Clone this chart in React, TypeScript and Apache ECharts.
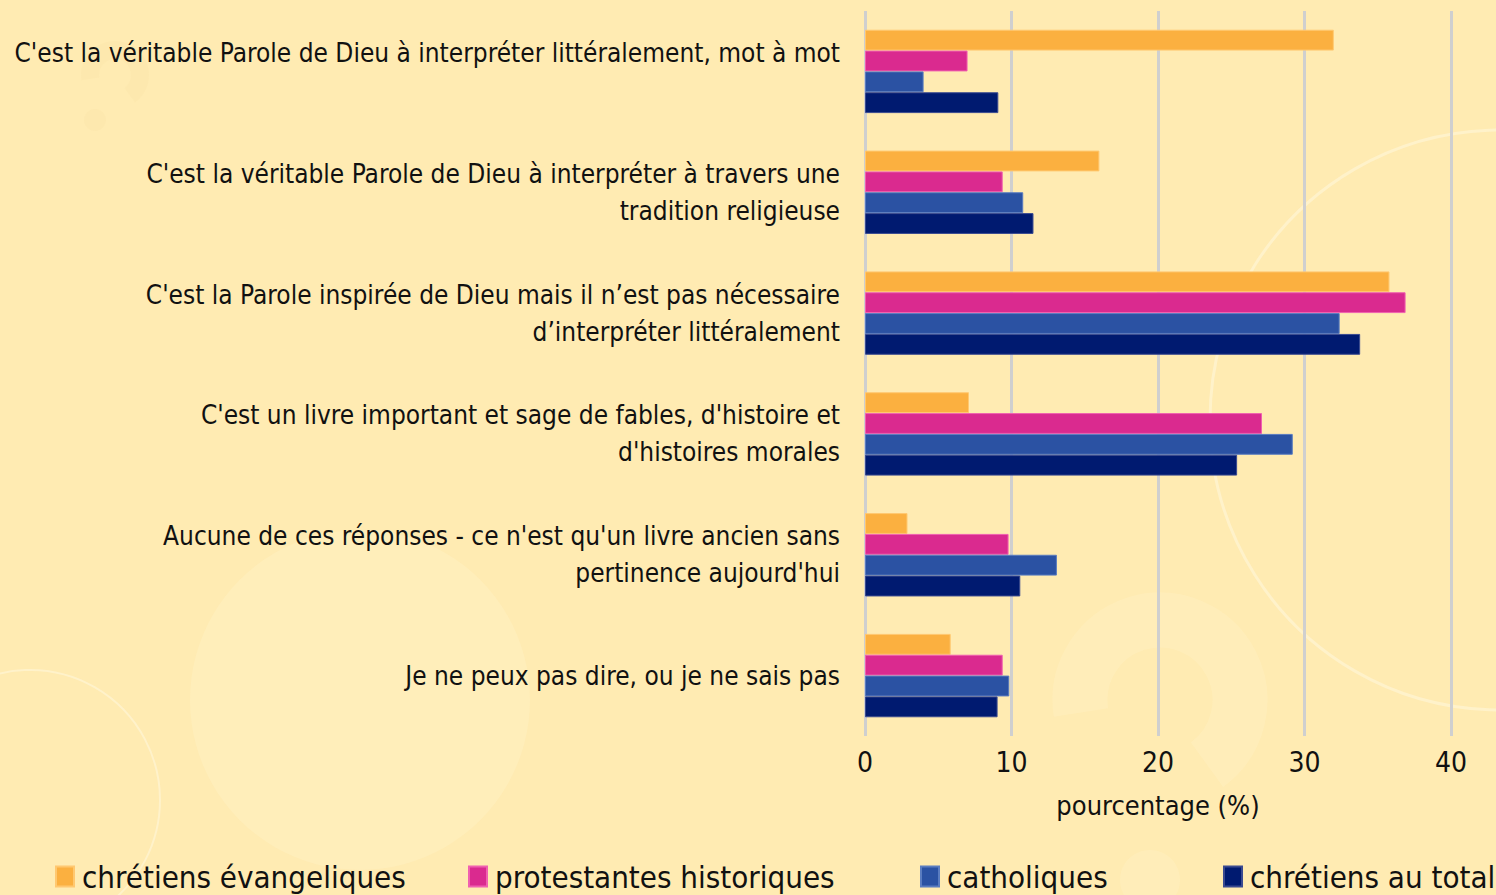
import React, { useEffect, useRef } from "react";
import * as echarts from "echarts";

const categories = [
  "C'est la véritable Parole de Dieu à interpréter littéralement, mot à mot\n ",
  "C'est la véritable Parole de Dieu à interpréter à travers une\ntradition religieuse",
  "C'est la Parole inspirée de Dieu mais il n’est pas nécessaire\nd’interpréter littéralement",
  "C'est un livre important et sage de fables, d'histoire et\nd'histoires morales",
  "Aucune de ces réponses - ce n'est qu'un livre ancien sans\npertinence aujourd'hui",
  "Je ne peux pas dire, ou je ne sais pas",
];

const seriesNames = [
  "chrétiens évangeliques",
  "protestantes historiques",
  "catholiques",
  "chrétiens au total",
];

const evangeliques = [32, 16, 35.8, 7.1, 2.9, 5.85];
const protestantes = [7, 9.4, 36.9, 27.1, 9.8, 9.4];
const catholiques = [4, 10.8, 32.4, 29.2, 13.1, 9.85];
const total = [9.1, 11.5, 33.8, 25.4, 10.6, 9.05];

const xTicks = [0, 10, 20, 30, 40];

const colors = ["#FBB040", "#DA2A8F", "#2B52A3", "#001A70"];
const borders = ["#FFC870", "#F060B0", "#5A7CC0", "#3A4A90"];

const FONT = "'DejaVu Sans Condensed', 'Liberation Sans Narrow', 'Roboto', sans-serif";

export default function App() {
  const ref = useRef<HTMLDivElement>(null);
  useEffect(() => {
    document.body.style.margin = "0";
    const chart = echarts.init(ref.current!, null, { renderer: "svg" });
    const values = [evangeliques, protestantes, catholiques, total];
    const legendLefts = [55, 468, 920, 1223];
    const faint = "rgba(255,245,205,0.28)";
    const faintDark = "rgba(235,215,150,0.12)";
    chart.setOption({
      animation: false,
      backgroundColor: "#FFEBB2",
      textStyle: { fontFamily: FONT },
      graphic: [
        { type: "circle", shape: { cx: 360, cy: 700, r: 170 }, style: { fill: "rgba(255,245,205,0.3)" }, z: -10, silent: true },
        { type: "circle", shape: { cx: 30, cy: 800, r: 130 }, style: { fill: "none", stroke: "rgba(255,250,225,0.5)", lineWidth: 2 }, z: -10, silent: true },
        { type: "circle", shape: { cx: 1500, cy: 420, r: 290 }, style: { fill: "none", stroke: "rgba(255,250,225,0.5)", lineWidth: 3 }, z: -10, silent: true },
        { type: "arc", shape: { cx: 1160, cy: 700, r: 80, startAngle: Math.PI * 0.95, endAngle: Math.PI * 2.3 }, style: { stroke: faint, lineWidth: 55, fill: "none" }, z: -10, silent: true },
        { type: "circle", shape: { cx: 1150, cy: 880, r: 30 }, style: { fill: faint }, z: -10, silent: true },
        { type: "arc", shape: { cx: 115, cy: 75, r: 25, startAngle: Math.PI * 0.95, endAngle: Math.PI * 2.3 }, style: { stroke: faintDark, lineWidth: 18, fill: "none" }, z: -10, silent: true },
        { type: "circle", shape: { cx: 95, cy: 120, r: 11 }, style: { fill: faintDark }, z: -10, silent: true },
      ],
      grid: { left: 865, right: 45, top: 11, bottom: 159, containLabel: false, outerBoundsMode: "none" },
      legend: seriesNames.map((n, i) => ({
        data: [n],
        left: legendLefts[i],
        top: 861,
        icon: "rect",
        itemWidth: 18,
        itemHeight: 20,
        itemGap: 8,
        padding: 0,
        textStyle: { fontSize: 31, color: "#111", fontFamily: FONT, padding: [0, 0, 0, 3] },
      })),
      xAxis: {
        type: "value",
        min: 0,
        max: 40,
        interval: 10,
        name: "pourcentage (%)",
        nameLocation: "middle",
        nameGap: 56,
        nameTextStyle: { fontSize: 27, color: "#111", fontFamily: FONT },
        axisLine: { show: false },
        axisTick: { show: false },
        axisLabel: {
          fontSize: 28,
          color: "#111",
          margin: 12,
          fontFamily: FONT,
          formatter: (v: number) => (xTicks.includes(v) ? String(v) : ""),
        },
        splitLine: { show: true, lineStyle: { color: "#CFCFCF", width: 3 } },
      },
      yAxis: {
        type: "category",
        data: categories,
        inverse: true,
        axisLine: { show: false },
        axisTick: { show: false },
        axisLabel: {
          fontSize: 26,
          color: "#111",
          margin: 25,
          lineHeight: 37,
          align: "right",
          fontFamily: FONT,
        },
      },
      series: seriesNames.map((n, i) => ({
        name: n,
        type: "bar",
        data: values[i],
        barGap: "0%",
        barCategoryGap: "31%",
        itemStyle: { color: colors[i], borderColor: borders[i], borderWidth: 1 },
      })),
    });
    return () => chart.dispose();
  }, []);
  return <div ref={ref} style={{ width: 1496, height: 895 }} />;
}
